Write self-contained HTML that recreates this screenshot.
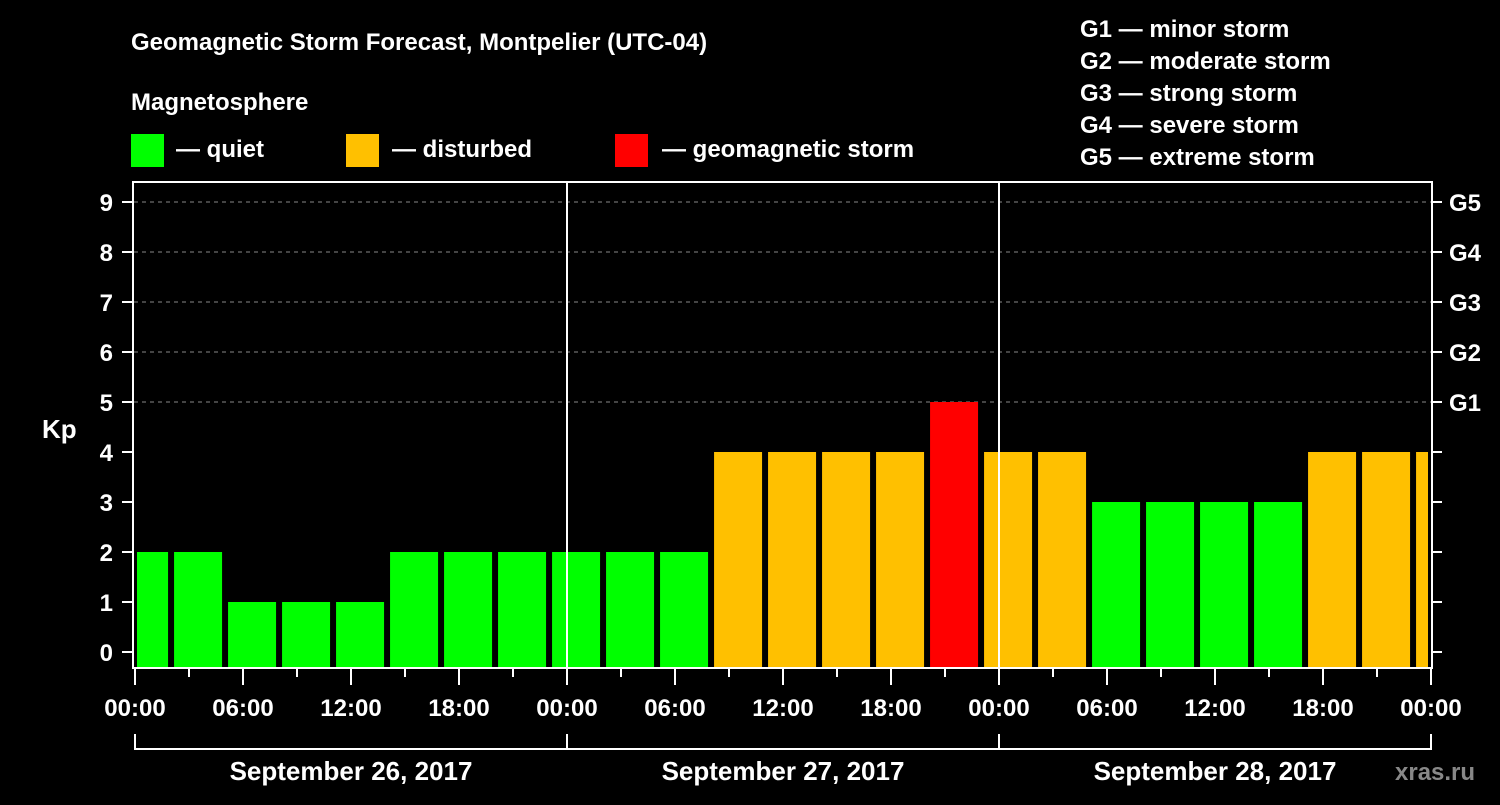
<!DOCTYPE html>
<html><head><meta charset="utf-8"><style>
body{margin:0;background:#000;width:1500px;height:800px;overflow:hidden}
svg text{font-family:"Liberation Sans",Arial,sans-serif;font-weight:bold;fill:#fff}
</style></head><body>
<svg id="c" width="1500" height="800" xmlns="http://www.w3.org/2000/svg">
<text x="131" y="50" font-size="24">Geomagnetic Storm Forecast, Montpelier (UTC-04)</text>
<text x="131" y="110" font-size="24">Magnetosphere</text>
<rect x="131" y="134" width="33" height="33" fill="#00ff00"/>
<text x="176" y="157" font-size="24">— quiet</text>
<rect x="346" y="134" width="33" height="33" fill="#ffc000"/>
<text x="392" y="157" font-size="24">— disturbed</text>
<rect x="615" y="134" width="33" height="33" fill="#ff0000"/>
<text x="662" y="157" font-size="24">— geomagnetic storm</text>
<g font-size="24">
<text x="1080" y="37">G1 — minor storm</text>
<text x="1080" y="69">G2 — moderate storm</text>
<text x="1080" y="101">G3 — strong storm</text>
<text x="1080" y="133">G4 — severe storm</text>
<text x="1080" y="165">G5 — extreme storm</text>
</g>
<text x="42" y="438" font-size="26">Kp</text>
<text x="1395" y="780" font-size="24" fill="#888" style="fill:#888">xras.ru</text>
<g id="plot"></g>
</svg>
<script>
const kpValues=[2,2,1,1,1,2,2,2,2,2,2,4,4,4,4,5,4,4,3,3,3,3,4,4,4];
const yTicks=[0,1,2,3,4,5,6,7,8,9];
const gLabels=["G1","G2","G3","G4","G5"];
const xTickLabels=["00:00","06:00","12:00","18:00","00:00","06:00","12:00","18:00","00:00","06:00","12:00","18:00","00:00"];
const dayLabels=["September 26, 2017","September 27, 2017","September 28, 2017"];
const NS="http://www.w3.org/2000/svg";
const g=document.getElementById('plot');
const L=134,R=1432,T=182,B=668,X0=135,HR=18;
const y=v=>652-50*v;
const x=h=>X0+HR*h;
function el(t,a){const e=document.createElementNS(NS,t);for(const k in a)e.setAttribute(k,a[k]);g.appendChild(e);return e;}
// grid
for(let v=5;v<=9;v++){const e=el('line',{x1:L,x2:R,y1:y(v),y2:y(v),stroke:'#888','stroke-dasharray':'4,4','stroke-width':1});

}
// bars
kpValues.forEach((v,k)=>{
 let x1=x(3*k-0.83),x2=x1+48;x1=Math.max(x1,137);x2=Math.min(x2,1428);
 const col=v>=5?'#ff0000':v>=4?'#ffc000':'#00ff00';
 const r=el('rect',{x:x1,y:y(v),width:x2-x1,height:B-y(v),fill:col});
 
 
});
// day separators
[1,2].forEach(d=>{const e=el('line',{x1:x(24*d),x2:x(24*d),y1:T,y2:B,stroke:'#fff','stroke-width':2});

});
// frame
const f=el('rect',{x:133,y:T,width:R-133,height:B-T,fill:'none',stroke:'#fff','stroke-width':2});


// y ticks
yTicks.forEach(v=>{
 el('line',{x1:122,x2:133,y1:y(v),y2:y(v),stroke:'#fff','stroke-width':2});
 el('line',{x1:R,x2:1442,y1:y(v),y2:y(v),stroke:'#fff','stroke-width':2});
 const t=el('text',{x:113,y:y(v)+9,'font-size':24,'text-anchor':'end'});t.textContent=v;
 
 
});
gLabels.forEach((s,i)=>{const t=el('text',{x:1449,y:y(5+i)+9,'font-size':24});t.textContent=s;
 
 });
// x ticks
for(let h=0;h<=72;h+=3){const maj=h%6===0;el('line',{x1:x(h),x2:x(h),y1:B,y2:maj?685:677,stroke:'#fff','stroke-width':2});}
xTickLabels.forEach((s,i)=>{const t=el('text',{x:x(6*i),y:716,'font-size':24,'text-anchor':'middle'});t.textContent=s;
 
 });
// day bracket
el('line',{x1:x(0),x2:x(72),y1:749,y2:749,stroke:'#fff','stroke-width':2});
[0,1,2,3].forEach(d=>el('line',{x1:x(24*d),x2:x(24*d),y1:734,y2:750,stroke:'#fff','stroke-width':2}));
dayLabels.forEach((s,i)=>{const t=el('text',{x:x(24*i+12),y:780,'font-size':26,'text-anchor':'middle'});t.textContent=s;
 
 });
</script>
</body></html>
